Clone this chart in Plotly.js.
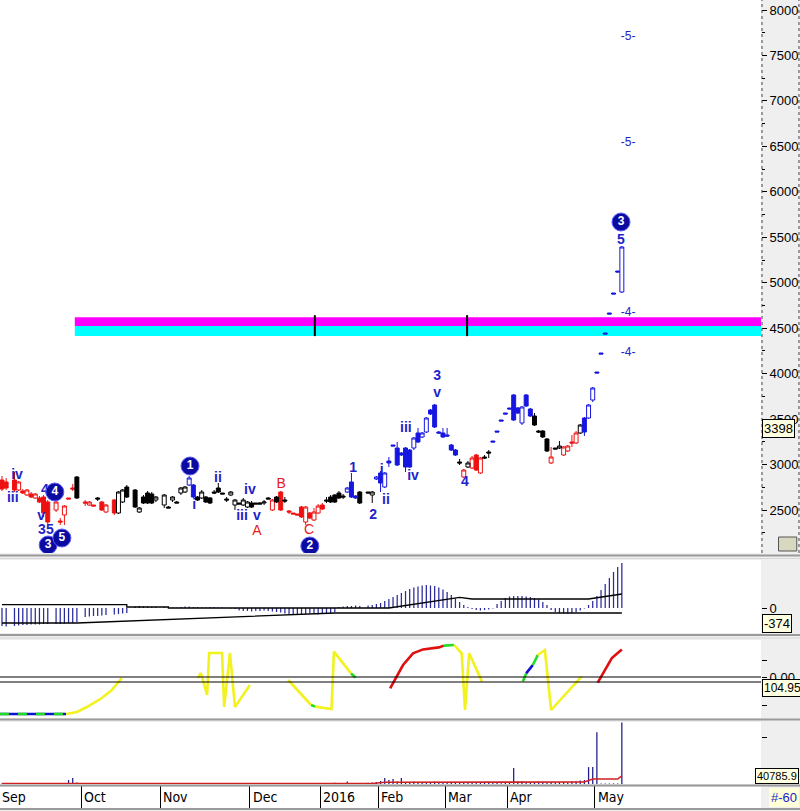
<!DOCTYPE html>
<html><head><meta charset="utf-8">
<script src="https://cdn.plot.ly/plotly-3.0.1.min.js"></script>
<style>html,body{margin:0;padding:0;background:#efefef;}#chart{width:800px;height:811px;}</style>
</head><body><div id="chart"></div>
<script>
// ---- price data (trading-day index) ----
const days = [0,1,3,4,5,6,7,8,9,10,11,13,14,15,16,17,18,20,21,22,23,24,25,27,28,29,30,32,33,34,35,36,37,
39,40,41,42,43,44,45,46,47,48,49,50,51,52,53,54,55,56,57,58,59,60,61,62,63,64,65,66,67,68,69,70,71,72,73,74,75,76,77,78,79,80,81,82,83,84,85,86,
88,89,90,91,92,93,94,95,96,97,98,99,100,101,102,103,104,105,106,107,108,109,110,111,112,113,114,115,116,117,118,119,120,121,122,123,124,125,126,127,128,129,130,131,132,133,134,135,136,137,138,139,140,141,142,143,144,145,146,147,148,149];
const candleGroup = ("RRRRRRRRRRRRRRRR"+"K"+"RRR"+"K"+"RRR"+"KKKKKKKKKKKKKKK"+"BB"+"KKKKKKKKKKKKKKKKKK"+"RKRK"+"RRRRRRRRR"+"KKKKK"+"BBB"+"KKK"+"BBBBBBBBBBBBBBBBBBBB"+"KRK"+"RRR"+"KK"+"BBBBBBBBBB"+"KKKK"+"R"+"KK"+"RRRR"+"K"+"BBBBBBBBBB").split('');
const open = [2830,2808,2830,2720,2709,2665,2676,2632,2632,2643,2588,2500,2379,2445,2632,2742,2863,2588,2555,2555,
2632,2588,2478,2610,2467,2588,2753,2720,2478,2643,2687,2676,2610,2555,2533,2610,2588,2687,2698,2775,
2775,2643,2632,2643,2632,2698,2742,2687,2621,2665,2555,2577,2555,2533,2577,2577,2577,2577,2632,2500,
2643,2698,2610,2489,2467,2456,2533,2368,2467,2390,2467,2555,2610,2643,2665,2687,2654,2698,2808,2654,
2698,2698,2665,2841,2907,2753,3039,3215,3182,3127,3182,3160,3182,3347,3303,3358,3600,3655,3358,3347,
3325,3215,3160,3028,2863,2973,2962,3105,2907,3083,3138,3259,3369,3490,3567,3622,3765,3622,3457,3765,
3611,3534,3369,3369,3281,3017,3182,3182,3105,3149,3248,3237,3347,3512,3512,3710,4018,4227,4447,4667,
4887,5129,4898];
const high = [2874,2852,2918,2819,2731,2731,2698,2687,2654,2665,2610,2599,2412,2555,2632,2786,2874,2610,2599,2555,
2643,2599,2566,2621,2709,2731,2775,2731,2533,2665,2709,2698,2654,2676,2544,2654,2599,2753,2764,2874,
2786,2654,2720,2654,2643,2720,2797,2687,2643,2709,2621,2577,2632,2599,2599,2577,2588,2610,2643,2621,
2654,2709,2643,2500,2467,2456,2544,2544,2478,2522,2566,2577,2643,2665,2676,2709,2676,2753,2907,2665,
2709,2698,2709,2874,2929,2918,3083,3215,3248,3138,3193,3171,3303,3402,3358,3523,3611,3666,3369,3402,
3402,3226,3171,3061,2951,3039,3094,3116,3083,3105,3160,3259,3369,3490,3567,3622,3776,3633,3644,3776,
3622,3567,3380,3380,3292,3193,3182,3259,3204,3215,3325,3369,3446,3523,3666,3853,4018,4227,4447,4667,
4887,5129,5404];
const low = [2709,2720,2698,2709,2676,2654,2632,2621,2577,2423,2335,2478,2335,2335,2621,2709,2621,2544,2544,2544,
2599,2489,2467,2445,2456,2577,2632,2522,2467,2566,2566,2566,2588,2522,2522,2588,2577,2665,2687,2764,
2632,2599,2621,2577,2566,2676,2687,2676,2588,2654,2500,2566,2544,2522,2522,2566,2566,2555,2621,2489,
2577,2489,2577,2456,2456,2445,2412,2335,2401,2379,2456,2500,2577,2577,2577,2621,2621,2687,2632,2621,
2566,2687,2577,2830,2698,2742,2973,3204,2984,3094,2918,2962,3160,3237,3292,3347,3545,3402,3336,3292,
3303,3149,3094,2995,2852,2962,2951,2929,2896,3061,3072,3248,3358,3479,3556,3611,3479,3556,3435,3633,
3523,3424,3347,3292,3138,3006,3171,3171,3094,3138,3193,3226,3336,3314,3501,3688,4007,4216,4436,4656,
4876,5118,4887];
const close = [2731,2742,2720,2808,2687,2720,2643,2676,2588,2467,2368,2588,2368,2544,2621,2731,2632,2577,2588,2544,
2621,2500,2555,2467,2698,2720,2643,2533,2522,2577,2577,2577,2643,2665,2522,2643,2577,2742,2753,2852,
2643,2610,2698,2588,2577,2687,2698,2676,2610,2698,2610,2566,2610,2588,2533,2566,2566,2588,2621,2610,
2588,2500,2599,2478,2456,2445,2423,2533,2412,2478,2544,2511,2599,2588,2588,2632,2643,2742,2643,2632,
2577,2687,2698,2863,2797,2907,3017,3204,2995,3105,2973,2973,3292,3248,3347,3512,3556,3413,3347,3303,
3314,3160,3105,3017,2940,3017,3072,2940,3072,3072,3127,3248,3358,3479,3556,3611,3490,3567,3633,3644,
3534,3435,3358,3303,3149,3083,3171,3204,3193,3204,3237,3347,3435,3358,3655,3842,4007,4216,4436,4656,
4876,5118,5393];
const volume = [2000,2000,1500,2000,2000,1500,2000,1500,2000,3000,3000,2000,2000,2000,20000,30000,8000,2000,2000,1500,
2000,1500,2000,2000,1500,2000,2000,1500,2000,1500,1500,2000,1500,1500,1500,1500,1500,2000,1500,5000,
2000,1500,1500,1500,1500,1500,1500,1500,1500,1500,1500,1500,1500,1500,1500,1500,1500,1500,1500,1500,
1500,1500,1500,1500,1500,1500,1500,1500,1500,1500,1500,1500,3000,2000,6000,2000,3000,12000,4000,2000,
3000,6000,8000,10000,15000,30000,20000,25000,12000,30000,8000,10000,12000,9000,8000,7000,8000,12000,9000,8000,
7000,6000,8000,10000,9000,7000,8000,6000,7000,8000,9000,6000,5000,4000,5000,6000,80000,12000,14000,10000,
9000,8000,10000,8000,7000,9000,6000,8000,10000,9000,12000,14000,18000,20000,85000,85000,260000,3000,3000,3000,
3000,3000,310000];
const macdHist = [-180,-185,-180,-175,-170,-170,-165,-165,-165,-160,-160,
-160,-160,-155,-150,-150,-140,
-90,-85,-80,-80,-75,-70,
-65,-60,-55,-50,
15,20,15,15,10,10,
10,10,5,5,10,15,15,10,10,5,5,10,10,5,5,0,-5,-10,
-25,-30,-30,-35,-30,-30,-25,-30,-35,-40,-45,
-55,-60,-60,-65,-60,-60,-55,-60,-65,-60,-55,-50,-40,
10,15,20,20,25,20,
25,30,40,50,70,
90,110,130,150,170,190,205,215,225,230,225,220,
205,185,160,130,95,60,30,10,
-10,-20,-25,-20,-15,-5,
40,70,100,115,120,120,120,115,110,100,85,60,30,
-20,-40,-50,-55,-55,-50,-40,-25,-5,
30,70,120,180,240,300,360,410,450];
const macdLineX = [0,30,30,40,40,93,110,113,141,149];
const macdLineY = [33,33,10,10,0,0,106,90,90,140];
const signalX = [0,18,80,149];
const signalY = [-150,-150,-50,-50];
const volMAX = [0,89,92,140,142,148,149];
const volMAY = [2500,2500,9000,10000,25000,25000,40786];

// oscillator pieces
const oscBlueX = [-0.5,15.4], oscBlueY = [-185,-185];
const oscY1X = [15.4,18,20.4,24,26.4,28.8], oscY1Y = [-185,-175,-150,-105,-65,-5];
const oscY2X = [47.1,47.8,49.3,49.8,52.9,53.4,54.8,56,59.6], oscY2Y = [-5,20,-90,120,120,-150,120,-150,-40];
const oscY3X = [68.8,74.3], oscY3Y = [-15,-140];
const oscG1X = [74.3,75.3], oscG1Y = [-140,-148];
const oscY4X = [75.3,79.2,79.8,83.9], oscY4Y = [-148,-160,127,18];
const oscG2X = [83.9,85], oscG2Y = [18,-2];
const oscR1X = [93.3,96.4,98.8,101.2,105,106.2], oscR1Y = [-57,60,118,138,148,157];
const oscG3X = [106.2,108.7], oscG3Y = [157,160];
const oscY5X = [108.7,110.5,111.3,112.3,115.4], oscY5Y = [160,118,-165,118,-23];
const oscG4X = [125.2,126], oscG4Y = [-23,18];
const oscB2X = [126,127.6], oscB2Y = [18,60];
const oscG5X = [127.6,128.8], oscG5Y = [60,110];
const oscY6X = [128.8,130.5,132,139.3], oscY6Y = [110,135,-165,2];
const oscR2X = [143.2,146.6,149], oscR2Y = [-28,95,138];

// labels
const blueLblText = ['iv','iii','4','v','3','5','i','ii','iv','iii','v','1','2','i','ii','iii','iv','3','v','4','5'];
const blueLblX = [3.6,2.6,10.3,9.4,9.6,11.5,46.2,51.9,59.6,57.7,61.3,84.4,89.2,91.3,92.3,97.1,98.8,104.6,104.6,111.3,148.8];
const blueLblY = [2885,2632,2720,2434,2280,2280,2555,2852,2720,2434,2425,2962,2445,2940,2610,3402,2874,3965,3780,2808,5470];
const redLblText = ['A','B','C'];
const redLblX = [61.3,67.1,73.8];
const redLblY = [2265,2786,2280];
const circleText = ['3','5','4','1','2','3'];
const circleX = [11.1,14.4,12.7,45.2,74,148.8];
const circleY = [2115,2192,2698,2984,2104,5668];
const targetText = ['-5-','-5-','-4-','-4-'];
const targetX = [150.5,150.5,150.5,150.5];
const targetY = [7703,6537,4667,4227];

const bandLevels = [4415,4525,4620];
const bandStartDay = 17.5;
const bandMarkDays = [75.2,111.8];
const bandMarkRange = [4413,4643];

const monthTicks = [19,38,59.5,76.5,90.5,106.5,121.5,142.5];
const monthLabels = ['Oct','Nov','Dec','2016','Feb','Mar','Apr','May'];
const priceTicks = [2500,3000,3500,4000,4500,5000,5500,6000,6500,7000,7500,8000];
const lastPrice = 3398;

// ---- build ----
const XR = [-0.48,182.45];
const col = {R:'#ee1111', K:'#000000', B:'#1616e0'};
const pick = (arr,g)=>arr.filter((_,i)=>candleGroup[i]===g);
const traces = [];
['R','K','B'].forEach(g=>{
  traces.push({type:'candlestick', x:pick(days,g), open:pick(open,g), high:pick(high,g), low:pick(low,g), close:pick(close,g),
    xaxis:'x', yaxis:'y', whiskerwidth:0, hoverinfo:'skip', showlegend:false,
    increasing:{line:{color:col[g],width:1}, fillcolor:'#ffffff'},
    decreasing:{line:{color:col[g],width:1}, fillcolor:col[g]}});
});
const LF = 'Liberation Sans, Arial, sans-serif';
traces.push({type:'scatter', mode:'text', x:blueLblX, y:blueLblY, text:blueLblText, yaxis:'y',
  textfont:{family:LF,size:14,color:'#2323c8',weight:'bold'}, hoverinfo:'skip'});
traces.push({type:'scatter', mode:'text', x:redLblX, y:redLblY, text:redLblText, yaxis:'y',
  textfont:{family:LF,size:14,color:'#e52020'}, hoverinfo:'skip'});
traces.push({type:'scatter', mode:'text', x:targetX, y:targetY, text:targetText, yaxis:'y',
  textfont:{family:LF,size:12,color:'#2323c8'}, hoverinfo:'skip'});
traces.push({type:'scatter', mode:'markers+text', x:circleX, y:circleY, text:circleText, yaxis:'y',
  marker:{size:18,color:'#0b0ba0',line:{color:'#5a5aff',width:1}},
  textfont:{family:LF,size:12,color:'#ffffff',weight:'bold'}, textposition:'middle center', hoverinfo:'skip'});

// MACD panel
traces.push({type:'bar', x:days, y:macdHist, yaxis:'y2', width:0.3, marker:{color:'#2a2a9c',line:{width:0}}, hoverinfo:'skip'});
traces.push({type:'scatter', mode:'lines', x:macdLineX, y:macdLineY, yaxis:'y2', line:{color:'#000',width:1.3}, hoverinfo:'skip'});
traces.push({type:'scatter', mode:'lines', x:signalX, y:signalY, yaxis:'y2', line:{color:'#000',width:1.3}, hoverinfo:'skip'});

// oscillator panel
const oscLine = (x,y,c,dash)=>({type:'scatter',mode:'lines',x:x,y:y,yaxis:'y3',line:{color:c,width:2.6,dash:dash||'solid'},hoverinfo:'skip'});
const YEL='#f2f21e', GRN='#22dd22', BLU='#1010d0', RED='#e01010';
traces.push(oscLine(oscBlueX,oscBlueY,BLU));
traces.push(oscLine(oscBlueX,oscBlueY,GRN,'dash'));
traces.push(oscLine(oscY1X,oscY1Y,YEL));
traces.push(oscLine(oscY2X,oscY2Y,YEL));
traces.push(oscLine(oscY3X,oscY3Y,YEL));
traces.push(oscLine(oscG1X,oscG1Y,GRN));
traces.push(oscLine(oscY4X,oscY4Y,YEL));
traces.push(oscLine(oscG2X,oscG2Y,GRN));
traces.push(oscLine(oscR1X,oscR1Y,RED));
traces.push(oscLine(oscG3X,oscG3Y,GRN));
traces.push(oscLine(oscY5X,oscY5Y,YEL));
traces.push(oscLine(oscG4X,oscG4Y,GRN));
traces.push(oscLine(oscB2X,oscB2Y,BLU));
traces.push(oscLine(oscG5X,oscG5Y,GRN));
traces.push(oscLine(oscY6X,oscY6Y,YEL));
traces.push(oscLine(oscR2X,oscR2Y,RED));

// volume panel
traces.push({type:'bar', x:days, y:volume, yaxis:'y4', width:0.3, marker:{color:'#1c1c88',line:{width:0}}, hoverinfo:'skip'});
traces.push({type:'scatter', mode:'lines', x:volMAX, y:volMAY, yaxis:'y4', line:{color:'#d02020',width:1.6}, hoverinfo:'skip'});

const P = y => (811 - y) / 811; // paper y from pixel row
const shapes = [];
shapes.push({type:'rect', xref:'x', yref:'y', x0:bandStartDay, x1:XR[1], y0:bandLevels[1], y1:bandLevels[2], fillcolor:'#ff00ff', line:{width:0}, layer:'below'});
shapes.push({type:'rect', xref:'x', yref:'y', x0:bandStartDay, x1:XR[1], y0:bandLevels[0], y1:bandLevels[1], fillcolor:'#00ffff', line:{width:0}, layer:'below'});
bandMarkDays.forEach(d=>shapes.push({type:'line', xref:'x', yref:'y', x0:d, x1:d, y0:bandMarkRange[0], y1:bandMarkRange[1], line:{color:'#000',width:2}}));
[0,-25].forEach(v=>shapes.push({type:'line', xref:'paper', yref:'y3', x0:0, x1:1, y0:v, y1:v, line:{color:'#000',width:1.2}}));
[[555.5,'#9a9a9a',2],[558.5,'#d6d6d6',1],[635,'#9a9a9a',2],[638,'#d6d6d6',1],[719.5,'#9a9a9a',2],[785.5,'#9a9a9a',2],[809,'#9a9a9a',2]].forEach(s=>
  shapes.push({type:'line', xref:'paper', yref:'paper', x0:0, x1:1.06, y0:P(s[0]), y1:P(s[0]), line:{color:s[1],width:s[2]}}));
shapes.push({type:'rect', xref:'paper', yref:'paper', x0:0, x1:1, y0:P(808), y1:P(787), fillcolor:'#ffffff', line:{width:0}, layer:'below'});
shapes.push({type:'line', xref:'paper', yref:'paper', x0:1.0013, x1:1.0013, y0:P(553), y1:1, line:{color:'#444',width:1,dash:'dot'}});
shapes.push({type:'line', xref:'paper', yref:'paper', x0:1.0499, x1:1.0499, y0:P(553), y1:1, line:{color:'#444',width:1,dash:'dot'}});
shapes.push({type:'rect', xref:'paper', yref:'paper', x0:1.023, x1:1.047, y0:P(551), y1:P(537), fillcolor:'#d8d8c0', line:{color:'#555',width:1}});

const ann = [];
const boxAnn = (text,yref,y,fc,fs)=>({xref:'paper', yref:yref, x:1.0013, y:y, xanchor:'left', yanchor:'middle', text:text, showarrow:false,
  bgcolor:'#ffffe1', bordercolor:'#000', borderwidth:1, borderpad:1, font:{family:LF,size:fs||13,color:fc||'#000'}});
ann.push(boxAnn(String(lastPrice),'y',lastPrice));
ann.push(boxAnn('-374','y2',-150));
ann.push(boxAnn('104.95','y3',-55,'#000',12));
ann.push(Object.assign(boxAnn('40785.9','y4',40786,'#000',11), {x:1.0499, xanchor:'right'}));
ann.push(Object.assign(boxAnn('#-60','paper',P(797),'#1c1cd0'), {x:1.01, bgcolor:'#ffffd8', bordercolor:'#ffffd8'}));
const MF = 'Liberation Sans Narrow, DejaVu Sans Condensed, Arial Narrow, sans-serif';
ann.push({xref:'paper', yref:'paper', x:0, y:P(797), xanchor:'left', yanchor:'middle', text:'Sep', showarrow:false, font:{family:MF,size:14,color:'#000'}});
monthTicks.forEach((t,i)=>ann.push({xref:'x', yref:'paper', x:t, y:P(797), xanchor:'left', yanchor:'middle', xshift:1, text:monthLabels[i], showarrow:false, font:{family:MF,size:14,color:'#000'}}));

const axBase = {side:'right', anchor:'x', showgrid:false, zeroline:false, ticks:'outside', ticklen:5, tickcolor:'#000', tickwidth:1,
  tickfont:{family:LF,size:13,color:'#000'}, fixedrange:true, showline:false};
const layout = {
  width:800, height:811, margin:{l:0,r:39,t:0,b:0},
  paper_bgcolor:'#efefef', plot_bgcolor:'#ffffff', showlegend:false,
  boxgap:0.05, boxgroupgap:0, barmode:'overlay',
  font:{family:LF,size:12,color:'#000'},
  xaxis:{range:XR, anchor:'y4', showgrid:false, zeroline:false, showticklabels:false, ticks:'outside', ticklen:23, tickcolor:'#000',
    tickwidth:1, tickvals:monthTicks, rangeslider:{visible:false}, fixedrange:true, showline:false},
  yaxis:Object.assign({}, axBase, {domain:[P(553),1], range:[2027,8110], tickvals:priceTicks,
    minor:{ticks:'outside', ticklen:3, dtick:250, tickcolor:'#000', showgrid:false}}),
  yaxis2:Object.assign({}, axBase, {domain:[P(633),P(560)], range:[-250,480], tickvals:[0], ticktext:['0']}),
  yaxis3:Object.assign({}, axBase, {domain:[P(718),P(640)], range:[-205,185], tickvals:[-140,0,85], ticktext:['','0.00','']}),
  yaxis4:Object.assign({}, axBase, {domain:[P(784),P(722)], range:[0,312000], tickvals:[235000], ticktext:['']}),
  shapes:shapes, annotations:ann
};
Plotly.newPlot('chart', traces, layout, {displayModeBar:false, staticPlot:true});
</script>
</body></html>
